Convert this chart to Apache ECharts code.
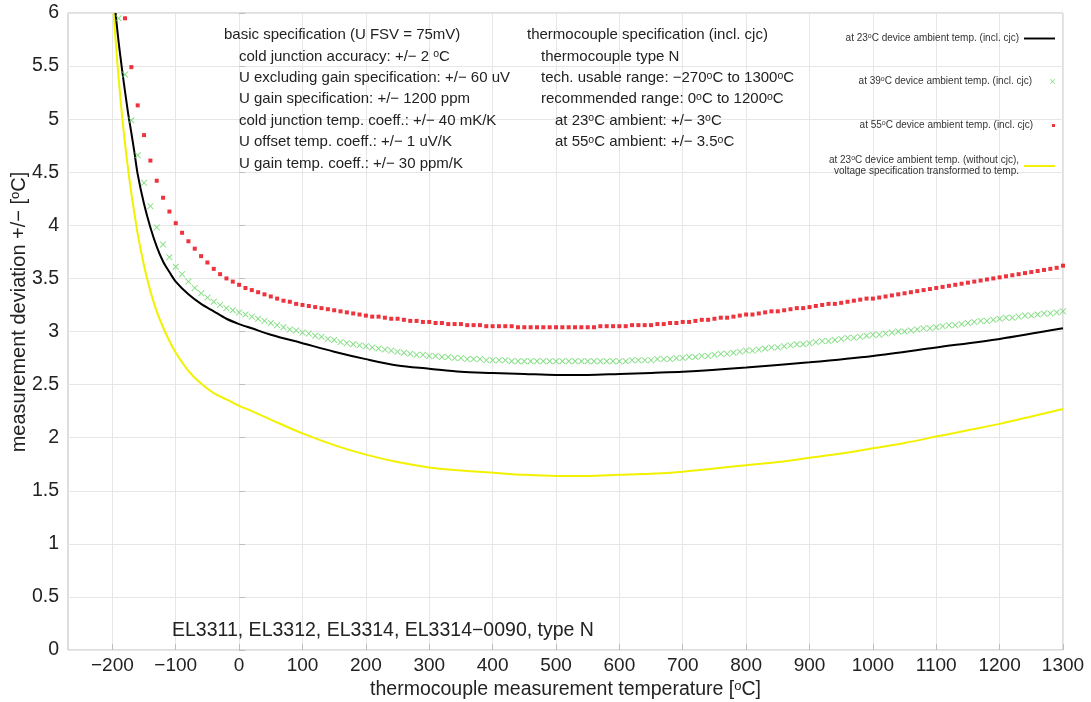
<!DOCTYPE html>
<html>
<head>
<meta charset="utf-8">
<script src="https://cdn.jsdelivr.net/npm/echarts@6/dist/echarts.min.js"></script>
<style>
  html, body { margin: 0; padding: 0; background: #ffffff; }
  #chart { width: 1091px; height: 702px; }
</style>
</head>
<body>
<div id="chart"></div>
<script>
// Measurement deviation of a type N thermocouple channel over the measured temperature.

const xTickLabels = [-200, -100, 0, 100, 200, 300, 400, 500, 600, 700, 800, 900, 1000, 1100, 1200, 1300];

// 23 °C ambient, incl. cold junction (solid black)
const black23Temps = [-195, -190, -185, -180, -175, -170, -165, -160, -150, -140, -130, -120, -110, -100, -80, -60, -40, -20, 0, 20, 50, 100, 150, 200, 250, 300, 350, 400, 450, 500, 550, 600, 650, 700, 800, 900, 1000, 1100, 1200, 1300];
const black23Vals  = [6.00, 5.72, 5.48, 5.26, 5.05, 4.87, 4.68, 4.48, 4.20, 3.98, 3.80, 3.66, 3.56, 3.47, 3.35, 3.26, 3.19, 3.12, 3.07, 3.03, 2.97, 2.89, 2.81, 2.74, 2.68, 2.65, 2.62, 2.61, 2.60, 2.59, 2.59, 2.60, 2.61, 2.62, 2.66, 2.71, 2.77, 2.85, 2.93, 3.03];

// 23 °C ambient, without cold junction, voltage spec converted to temperature (yellow)
const yellowTemps = [-198, -195, -190, -185, -180, -175, -170, -160, -150, -140, -130, -120, -110, -100, -80, -60, -40, -20, 0, 20, 50, 100, 150, 200, 250, 300, 350, 400, 450, 500, 550, 600, 650, 700, 750, 800, 850, 900, 950, 1000, 1050, 1100, 1150, 1200, 1250, 1300];
const yellowVals  = [6.00, 5.75, 5.38, 5.05, 4.77, 4.52, 4.30, 3.92, 3.62, 3.38, 3.19, 3.04, 2.91, 2.80, 2.63, 2.51, 2.42, 2.36, 2.30, 2.25, 2.17, 2.04, 1.93, 1.84, 1.77, 1.72, 1.69, 1.67, 1.65, 1.64, 1.64, 1.65, 1.66, 1.68, 1.71, 1.74, 1.77, 1.81, 1.85, 1.90, 1.95, 2.01, 2.07, 2.13, 2.20, 2.27];

// sampled temperatures of the marker series (10 °C steps)
const markerTemps = [
  -190, -180, -170, -160, -150, -140, -130, -120, -110, -100,
  -90, -80, -70, -60, -50, -40, -30, -20, -10, 0,
  10, 20, 30, 40, 50, 60, 70, 80, 90, 100,
  110, 120, 130, 140, 150, 160, 170, 180, 190, 200,
  210, 220, 230, 240, 250, 260, 270, 280, 290, 300,
  310, 320, 330, 340, 350, 360, 370, 380, 390, 400,
  410, 420, 430, 440, 450, 460, 470, 480, 490, 500,
  510, 520, 530, 540, 550, 560, 570, 580, 590, 600,
  610, 620, 630, 640, 650, 660, 670, 680, 690, 700,
  710, 720, 730, 740, 750, 760, 770, 780, 790, 800,
  810, 820, 830, 840, 850, 860, 870, 880, 890, 900,
  910, 920, 930, 940, 950, 960, 970, 980, 990, 1000,
  1010, 1020, 1030, 1040, 1050, 1060, 1070, 1080, 1090, 1100,
  1110, 1120, 1130, 1140, 1150, 1160, 1170, 1180, 1190, 1200,
  1210, 1220, 1230, 1240, 1250, 1260, 1270, 1280, 1290, 1300
];

// 39 °C ambient, incl. cold junction (green crosses)
const green39Vals = [
  5.95, 5.42, 4.99, 4.66, 4.40, 4.18, 3.98, 3.82, 3.70, 3.61,
  3.54, 3.47, 3.41, 3.36, 3.32, 3.28, 3.25, 3.22, 3.20, 3.18,
  3.16, 3.14, 3.12, 3.10, 3.08, 3.06, 3.04, 3.02, 3.01, 2.99,
  2.98, 2.96, 2.95, 2.93, 2.92, 2.90, 2.89, 2.88, 2.87, 2.86,
  2.85, 2.84, 2.83, 2.82, 2.81, 2.80, 2.79, 2.78, 2.78, 2.77,
  2.77, 2.76, 2.76, 2.75, 2.75, 2.74, 2.74, 2.74, 2.73, 2.73,
  2.73, 2.73, 2.72, 2.72, 2.72, 2.72, 2.72, 2.72, 2.72, 2.72,
  2.72, 2.72, 2.72, 2.72, 2.72, 2.72, 2.72, 2.72, 2.72, 2.72,
  2.72, 2.73, 2.73, 2.73, 2.73, 2.74, 2.74, 2.74, 2.75, 2.75,
  2.76, 2.76, 2.77, 2.77, 2.78, 2.79, 2.79, 2.80, 2.81, 2.82,
  2.82, 2.83, 2.84, 2.85, 2.85, 2.86, 2.87, 2.88, 2.88, 2.89,
  2.90, 2.91, 2.91, 2.92, 2.93, 2.94, 2.94, 2.95, 2.96, 2.97,
  2.97, 2.98, 2.99, 3.00, 3.00, 3.01, 3.02, 3.03, 3.03, 3.04,
  3.05, 3.06, 3.06, 3.07, 3.08, 3.09, 3.10, 3.10, 3.11, 3.12,
  3.13, 3.13, 3.14, 3.15, 3.15, 3.16, 3.17, 3.17, 3.18, 3.19
];

// 55 °C ambient, incl. cold junction (red dots); first sample lies above the plot
const red55Vals = [
  null, 5.95, 5.49, 5.13, 4.85, 4.61, 4.42, 4.26, 4.13, 4.02,
  3.93, 3.85, 3.78, 3.71, 3.65, 3.59, 3.54, 3.50, 3.47, 3.44,
  3.41, 3.39, 3.37, 3.35, 3.33, 3.31, 3.29, 3.28, 3.26, 3.25,
  3.24, 3.23, 3.22, 3.21, 3.20, 3.19, 3.18, 3.17, 3.16, 3.15,
  3.14, 3.14, 3.13, 3.12, 3.12, 3.11, 3.10, 3.10, 3.09, 3.09,
  3.08, 3.08, 3.07, 3.07, 3.07, 3.06, 3.06, 3.06, 3.05, 3.05,
  3.05, 3.05, 3.05, 3.04, 3.04, 3.04, 3.04, 3.04, 3.04, 3.04,
  3.04, 3.04, 3.04, 3.04, 3.04, 3.04, 3.05, 3.05, 3.05, 3.05,
  3.05, 3.06, 3.06, 3.06, 3.06, 3.07, 3.07, 3.08, 3.08, 3.09,
  3.09, 3.10, 3.11, 3.11, 3.12, 3.13, 3.13, 3.14, 3.15, 3.16,
  3.16, 3.17, 3.18, 3.19, 3.19, 3.20, 3.21, 3.22, 3.22, 3.23,
  3.24, 3.25, 3.26, 3.26, 3.27, 3.28, 3.29, 3.30, 3.31, 3.31,
  3.32, 3.33, 3.34, 3.35, 3.36, 3.37, 3.38, 3.39, 3.40, 3.41,
  3.42, 3.43, 3.44, 3.45, 3.46, 3.47, 3.48, 3.49, 3.50, 3.51,
  3.52, 3.53, 3.54, 3.55, 3.56, 3.57, 3.58, 3.59, 3.60, 3.62
];

const seriesNames = [
  'at 23°C device ambient temp. (incl. cjc)',
  'at 39°C device ambient temp. (incl. cjc)',
  'at 55°C device ambient temp. (incl. cjc)',
  'at 23°C device ambient temp. (without cjc),\nvoltage specification transformed to temp.'
];

const specLeft = [
  { indent: 0, text: 'basic specification (U FSV = 75mV)' },
  { indent: 1, text: 'cold junction accuracy: +/− 2 {sup|o}C' },
  { indent: 1, text: 'U excluding gain specification: +/− 60 uV' },
  { indent: 1, text: 'U gain specification: +/− 1200 ppm' },
  { indent: 1, text: 'cold junction temp. coeff.: +/− 40 mK/K' },
  { indent: 1, text: 'U offset temp. coeff.: +/− 1 uV/K' },
  { indent: 1, text: 'U gain temp. coeff.: +/− 30 ppm/K' }
];
const specRight = [
  { indent: 0, text: 'thermocouple specification (incl. cjc)' },
  { indent: 1, text: 'thermocouple type N' },
  { indent: 1, text: 'tech. usable range: −270{sup|o}C to 1300{sup|o}C' },
  { indent: 1, text: 'recommended range: 0{sup|o}C to 1200{sup|o}C' },
  { indent: 2, text: 'at 23{sup|o}C ambient: +/− 3{sup|o}C' },
  { indent: 2, text: 'at 55{sup|o}C ambient: +/− 3.5{sup|o}C' }
];
const productLabel = 'EL3311, EL3312, EL3314, EL3314−0090, type N';

const FONT = '"Liberation Sans", Arial, Helvetica, sans-serif';
const TEXT_COLOR = '#222222';

const pairs = (xs, ys) => xs.map((x, i) => [x, ys[i]]);
const supName = s => s.replace(/(\d)°C/g, '$1{sup|o}C');

const crossPath = 'path://M0,1L1,0L5,4L9,0L10,1L6,5L10,9L9,10L5,6L1,10L0,9L4,5Z';
const squarePath = 'path://M0,0L10,0L10,10L0,10Z';
const linePath = 'path://M0,0L32,0L32,2L0,2Z';

function legendFor(name, icon, top, iconH) {
  return {
    data: [{ name: name, icon: icon }],
    right: 31,
    top: top,
    orient: 'vertical',
    align: 'right',
    itemWidth: 31,
    itemHeight: iconH,
    itemGap: 0,
    selectedMode: false,
    formatter: supName,
    textStyle: {
      fontFamily: FONT, fontSize: 10, color: '#333333', lineHeight: 11,
      rich: { sup: { fontSize: 7, verticalAlign: 'top', fontFamily: FONT, color: '#333333' } }
    }
  };
}

const richSup = { sup: { fontSize: 10.5, verticalAlign: 'top', fontFamily: FONT, fill: TEXT_COLOR, color: TEXT_COLOR } };

function specBlock(lines, x0, y0, step, indentW) {
  return lines.map((ln, i) => ({
    type: 'text',
    x: x0 + ln.indent * indentW,
    y: y0 + i * step,
    z: 100,
    silent: true,
    style: {
      text: ln.text,
      fontFamily: FONT,
      fontSize: 15,
      fill: TEXT_COLOR,
      verticalAlign: 'middle',
      rich: richSup
    }
  }));
}

const chart = echarts.init(document.getElementById('chart'), null, { renderer: 'canvas' });

chart.setOption({
  animation: false,
  backgroundColor: '#ffffff',
  grid: {
    left: 68, right: 28, top: 13, bottom: 52,
    containLabel: false,
    outerBoundsMode: 'none',
    show: true, borderColor: '#bdbdbd', borderWidth: 1, backgroundColor: 'transparent'
  },
  xAxis: {
    type: 'value',
    min: -270,
    max: 1300,
    name: 'thermocouple measurement temperature [{sup|o}C]',
    nameLocation: 'middle',
    nameGap: 25,
    nameTextStyle: {
      fontFamily: FONT, fontSize: 19.5, color: TEXT_COLOR,
      rich: { sup: { fontSize: 13, verticalAlign: 'top', fontFamily: FONT, color: TEXT_COLOR } }
    },
    axisLine: { show: false },
    axisTick: { show: true, inside: true, length: 6, customValues: xTickLabels, lineStyle: { color: '#bdbdbd' } },
    axisLabel: {
      customValues: xTickLabels,
      margin: 6,
      fontFamily: FONT, fontSize: 19, color: TEXT_COLOR,
      formatter: v => (v < 0 ? '−' + Math.abs(v) : String(v))
    },
    splitLine: { show: true, lineStyle: { color: '#e6e6e6', width: 1 } }
  },
  yAxis: {
    type: 'value',
    min: 0,
    max: 6,
    interval: 0.5,
    axisLine: { show: false },
    axisTick: { show: true, inside: true, length: 6, lineStyle: { color: '#bdbdbd' } },
    axisLabel: { margin: 9, fontFamily: FONT, fontSize: 19.5, color: TEXT_COLOR },
    splitLine: { show: true, lineStyle: { color: '#e6e6e6', width: 1 } }
  },
  legend: [
    legendFor(seriesNames[0], linePath, 28, 2),
    legendFor(seriesNames[1], crossPath, 71, 5),
    legendFor(seriesNames[2], squarePath, 115, 3),
    legendFor(seriesNames[3], linePath, 150, 2)
  ],
  series: [
    {
      name: seriesNames[3],
      type: 'line',
      data: pairs(yellowTemps, yellowVals),
      smooth: 0.3,
      showSymbol: false,
      color: '#f2f200',
      lineStyle: { color: '#f2f200', width: 2 },
      z: 2
    },
    {
      name: seriesNames[0],
      type: 'line',
      data: pairs(black23Temps, black23Vals),
      smooth: 0.3,
      showSymbol: false,
      color: '#000000',
      lineStyle: { color: '#000000', width: 2 },
      z: 3
    },
    {
      name: seriesNames[1],
      type: 'scatter',
      data: pairs(markerTemps, green39Vals),
      symbol: crossPath,
      symbolSize: 6.5,
      itemStyle: { color: '#64d664' },
      z: 4
    },
    {
      name: seriesNames[2],
      type: 'scatter',
      data: pairs(markerTemps, red55Vals).filter(p => p[1] !== null),
      symbol: squarePath,
      symbolSize: 4,
      itemStyle: { color: '#e8000c' },
      z: 5
    }
  ],
  graphic: [
    ...specBlock(specLeft, 224, 35, 21.4, 15),
    ...specBlock(specRight, 527, 35, 21.4, 14),
    {
      type: 'text',
      x: 172,
      y: 631,
      z: 100,
      silent: true,
      style: { text: productLabel, fontFamily: FONT, fontSize: 19.5, fill: TEXT_COLOR, verticalAlign: 'middle' }
    },
    {
      type: 'text',
      x: 19,
      y: 312,
      z: 100,
      rotation: Math.PI / 2,
      silent: true,
      style: {
        text: 'measurement deviation +/− [{sup|o}C]',
        fontFamily: FONT, fontSize: 20, fill: TEXT_COLOR,
        align: 'center', verticalAlign: 'middle',
        rich: { sup: { fontSize: 13, verticalAlign: 'top', fontFamily: FONT, fill: TEXT_COLOR, color: TEXT_COLOR } }
      }
    }
  ]
});
</script>
</body>
</html>
